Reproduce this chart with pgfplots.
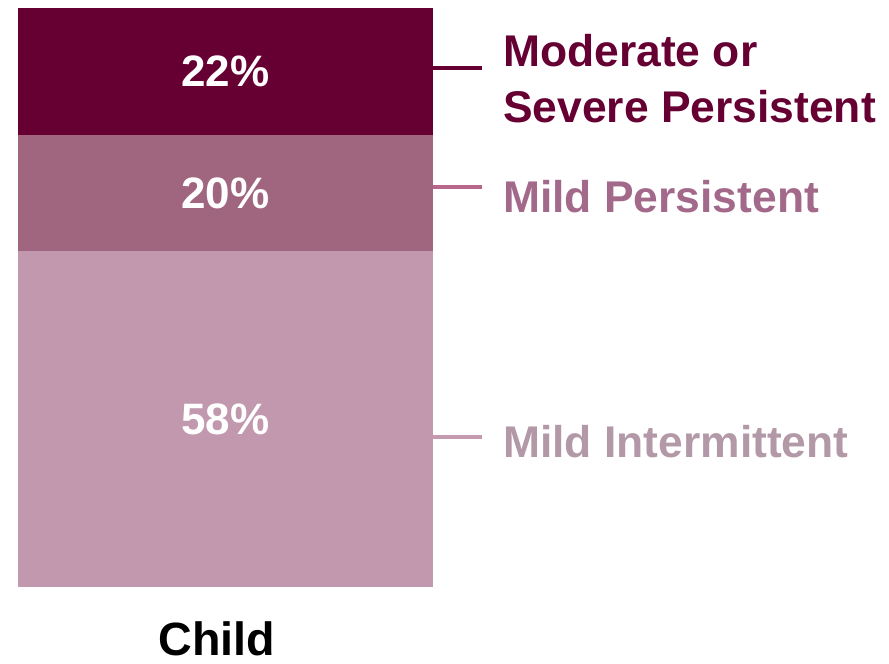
\documentclass[border=0pt]{standalone}
\usepackage{pgfplots}
\pgfplotsset{compat=1.18}
\usepackage{fontspec}
\setmainfont{Liberation Sans}

\definecolor{sevdark}{HTML}{660033}
\definecolor{mildpers}{HTML}{A0667F}
\definecolor{mildint}{HTML}{C198AD}
\definecolor{txtpers}{HTML}{A3698A}
\definecolor{txtint}{HTML}{B399A8}
\definecolor{linepers}{HTML}{B8668C}
\definecolor{lineint}{HTML}{C49AAE}

\begin{document}
\begin{tikzpicture}
% canvas: 889 x 664 units of 0.75pt
\useasboundingbox (0,0) rectangle (666.75pt,-498pt);

\begin{axis}[
  at={(13.5pt,-440.25pt)}, anchor=south west,
  scale only axis, width=311.25pt, height=434.25pt,
  xmin=0, xmax=1, ymin=0, ymax=100,
  hide axis, clip=false,
  ybar stacked, bar width=311.25pt,
  nodes near coords={\pgfmathprintnumber[assume math mode=true]{\pgfplotspointmeta}\%},
  every node near coord/.style={text=white, anchor=center,
    font=\bfseries\fontsize{33}{40}\selectfont},
]
\addplot[fill=mildint, draw=none] coordinates {(0.5,58)};
\addplot[fill=mildpers, draw=none] coordinates {(0.5,20)};
\addplot[fill=sevdark, draw=none] coordinates {(0.5,22)};
\end{axis}

\begin{scope}[x=0.75pt, y=-0.75pt]
  % leader lines
  \draw[sevdark, line width=3.3pt] (433,68) -- (482,68);
  \draw[linepers, line width=3.3pt] (433,187) -- (482,187);
  \draw[lineint, line width=3.3pt] (433,437) -- (482,437);
  % series labels
  \tikzset{lab/.style={anchor=base west, inner sep=0pt,
      font=\bfseries\fontsize{33.3}{40}\selectfont}}
  \node[lab, text=sevdark] at (503,66) {Moderate or};
  \node[lab, text=sevdark] at (503,122) {Severe Persistent};
  \node[lab, text=txtpers] at (503,212) {Mild Persistent};
  \node[lab, text=txtint] at (503,457) {Mild Intermittent};
  % category label
  \node[anchor=base, inner sep=0pt, text=black,
    font=\bfseries\fontsize{35}{42}\selectfont] at (217,655) {Child};
\end{scope}
\end{tikzpicture}
\end{document}
